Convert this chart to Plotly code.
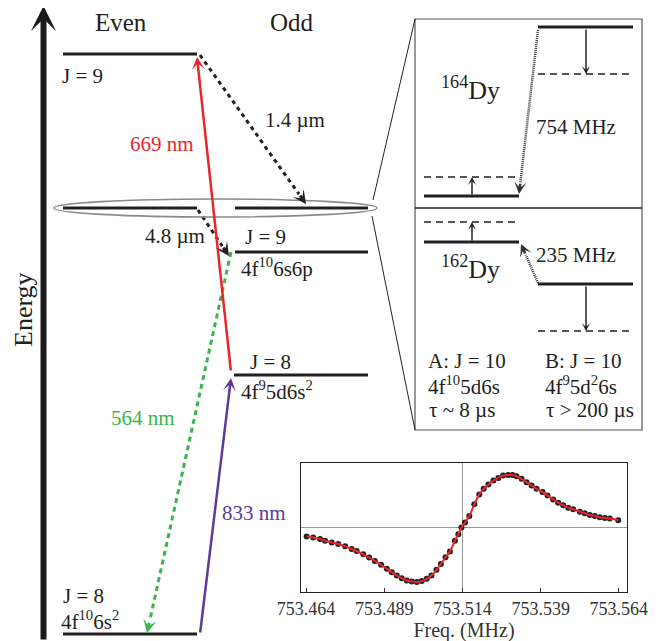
import plotly.graph_objects as go

# ---------------- inset: resonance signal ----------------
freq_mhz = [753.4642, 753.4663, 753.4685, 753.4701, 753.4722, 753.4743, 753.4765, 753.4786,
            753.4802, 753.4823, 753.4842, 753.4860, 753.4880, 753.4898, 753.4914, 753.4930,
            753.4946, 753.4962, 753.4978, 753.4994, 753.5010, 753.5026, 753.5041, 753.5057,
            753.5071, 753.5086, 753.5100, 753.5116, 753.5127, 753.5137, 753.5148, 753.5162,
            753.5178, 753.5194, 753.5208, 753.5223, 753.5239, 753.5255, 753.5270, 753.5286,
            753.5300, 753.5313, 753.5329, 753.5345, 753.5361, 753.5377, 753.5396, 753.5412,
            753.5430, 753.5446, 753.5462, 753.5478, 753.5494, 753.5515, 753.5531, 753.5547,
            753.5563, 753.5579, 753.5595, 753.5611, 753.5638]
signal = [-0.138, -0.154, -0.179, -0.205, -0.231, -0.256, -0.292, -0.333,
          -0.364, -0.415, -0.467, -0.518, -0.579, -0.641, -0.692, -0.744,
          -0.785, -0.821, -0.836, -0.846, -0.831, -0.795, -0.744, -0.656,
          -0.564, -0.462, -0.374, -0.205, -0.103, 0.0, 0.077, 0.179,
          0.359, 0.513, 0.600, 0.667, 0.728, 0.769, 0.805, 0.815,
          0.815, 0.795, 0.754, 0.703, 0.651, 0.600, 0.549, 0.497,
          0.436, 0.385, 0.344, 0.308, 0.282, 0.246, 0.221, 0.195,
          0.179, 0.159, 0.149, 0.138, 0.113]
freq_ticks = [753.464, 753.489, 753.514, 753.539, 753.564]
freq_center = 753.514

# ---------------- level scheme (schematic canvas units) ----------------
main_level_x0 = [63, 63, 235, 235, 234, 63]
main_level_x1 = [197, 197, 368, 368, 368, 197]
main_level_y = [54, 208, 208, 252, 375, 634]

box_solid_x0 = [538, 424, 424, 538]
box_solid_x1 = [633, 519, 519, 633]
box_solid_y = [27, 196, 242, 284]
box_dash_x0 = [538, 424, 424, 538]
box_dash_x1 = [633, 519, 519, 633]
box_dash_y = [74, 177, 222, 331]

FONT = "Liberation Serif"
INK = "#231f20"
RED = "#e8262c"
GREEN = "#39b54a"
PURPLE = "#5b3c9a"

# the page body adds an 8 px offset; compensate in the canvas frame
OFF = 8
W, H = 669, 641

fig = go.Figure()


def seg_trace(x0s, x1s, ys, width, dash="solid", color=INK):
    xs, yy = [], []
    for a, b, y in zip(x0s, x1s, ys):
        xs += [a, b, None]
        yy += [y, y, None]
    fig.add_trace(go.Scatter(x=xs, y=yy, mode="lines", xaxis="x", yaxis="y",
                             line=dict(color=color, width=width, dash=dash),
                             hoverinfo="skip", showlegend=False))


seg_trace(main_level_x0, main_level_x1, main_level_y, 3)
seg_trace(box_solid_x0, box_solid_x1, box_solid_y, 3.2)
seg_trace(box_dash_x0, box_dash_x1, box_dash_y, 1.5, dash="7px,5px")

annotations = []


def arrow(xt, yt, xh, yh, color, width, size, dash=None, style=3):
    if dash is None:
        annotations.append(dict(x=xh, y=yh, ax=xt, ay=yt, xref="x", yref="y",
                                axref="x", ayref="y", showarrow=True, text="",
                                arrowhead=style, arrowsize=size, arrowwidth=width,
                                arrowcolor=color))
    else:
        dx, dy = xh - xt, yh - yt
        L = (dx * dx + dy * dy) ** 0.5
        ux, uy = dx / L, dy / L
        back = 12
        fig.add_trace(go.Scatter(x=[xt, xh - ux * back], y=[yt, yh - uy * back],
                                 mode="lines", xaxis="x", yaxis="y",
                                 line=dict(color=color, width=width, dash=dash),
                                 hoverinfo="skip", showlegend=False))
        annotations.append(dict(x=xh, y=yh, ax=xh - ux * back, ay=yh - uy * back,
                                xref="x", yref="y", axref="x", ayref="y",
                                showarrow=True, text="", arrowhead=style,
                                arrowsize=size, arrowwidth=width, arrowcolor=color))


# energy axis
arrow(43.5, 641, 43.5, 6, "#1a1a1a", 6, 0.7)
# transitions
arrow(231, 372, 197, 57, RED, 2.5, 0.85)
arrow(200, 634, 231, 378, PURPLE, 2.5, 0.85)
arrow(231, 252, 147, 633, GREEN, 3, 0.75, dash="5px,4px")
arrow(200, 55, 306, 204, INK, 3, 0.75, dash="4px,4px")
arrow(198, 210, 229, 256, INK, 3, 0.75, dash="4px,4px")
arrow(538, 30, 519, 194, "#333", 2.5, 0.8, dash="1px,1px")
arrow(538, 283, 521, 244, "#333", 2.5, 0.8, dash="1px,1px")
# small shifts in box
arrow(472, 196, 472, 177, INK, 1.5, 0.9)
arrow(472, 242, 472, 222, INK, 1.5, 0.9)
arrow(586, 28, 586, 74, INK, 1.5, 0.9)
arrow(586, 285, 586, 331, INK, 1.5, 0.9)


def text(x, y, s, size=21, color=INK, anchor="center", angle=0):
    annotations.append(dict(x=x, y=y, xref="x", yref="y", text=s, showarrow=False,
                            xanchor=anchor, yanchor="middle", textangle=angle,
                            borderpad=0,
                            font=dict(family=FONT, size=size, color=color)))


text(121, 22, "Even", 25)
text(292, 22, "Odd", 25)
text(23, 310, "Energy", 26, angle=-90)
text(61, 76, "J = 9", anchor="left")
text(244, 237, "J = 9", anchor="left")
text(240, 267, "4f<sup>10</sup>6s6p", anchor="left")
text(249, 362, "J = 8", anchor="left")
text(240, 390, "4f<sup>9</sup>5d6s<sup>2</sup>", anchor="left")
text(62, 596, "J = 8", anchor="left")
text(60, 620, "4f<sup>10</sup>6s<sup>2</sup>", anchor="left")
text(162, 144, "669 nm", color=RED)
text(295, 120, "1.4 µm")
text(175, 236, "4.8 µm")
text(143, 418, "564 nm", color=GREEN)
text(254, 513, "833 nm", color=PURPLE)
text(470, 88, "<sup>164</sup>Dy", 26)
text(470, 267, "<sup>162</sup>Dy", 26)
text(535, 127, "754 MHz", anchor="left")
text(535, 255, "235 MHz", anchor="left")
text(427, 361, "A: J = 10", anchor="left")
text(427, 385, "4f<sup>10</sup>5d6s", anchor="left")
text(428, 410, "τ ~ 8 µs", anchor="left")
text(544, 361, "B: J = 10", anchor="left")
text(544, 385, "4f<sup>9</sup>5d<sup>2</sup>6s", anchor="left")
text(545, 410, "τ > 200 µs", anchor="left")

shapes = [
    # ellipse around near-degenerate pair
    dict(type="circle", xref="x", yref="y", x0=54, x1=377, y0=199, y1=217,
         line=dict(color="#8a8a8a", width=1.6)),
    # zoom box
    dict(type="rect", xref="x", yref="y", x0=415, x1=642, y0=19, y1=430,
         line=dict(color="#555", width=1.2)),
    dict(type="line", xref="x", yref="y", x0=415, x1=642, y0=208, y1=208,
         line=dict(color=INK, width=1.6)),
    dict(type="line", xref="x", yref="y", x0=373, x1=415, y0=200, y1=19,
         line=dict(color="#222", width=1)),
    dict(type="line", xref="x", yref="y", x0=372, x1=415, y0=216, y1=430,
         line=dict(color="#222", width=1)),
    # inset guide lines
    dict(type="line", xref="x2", yref="y2 domain", x0=freq_center, x1=freq_center,
         y0=0, y1=1, line=dict(color="#999", width=1), layer="below"),
    dict(type="line", xref="x2 domain", yref="y2", x0=0, x1=1, y0=0, y1=0,
         line=dict(color="#999", width=1), layer="below"),
]

# inset data
fig.add_trace(go.Scatter(x=freq_mhz, y=signal, mode="markers", xaxis="x2", yaxis="y2",
                         marker=dict(color="#222", size=6), showlegend=False,
                         hoverinfo="skip"))
fig.add_trace(go.Scatter(x=freq_mhz, y=signal, mode="lines", xaxis="x2", yaxis="y2",
                         line=dict(color="#e8262c", width=2, shape="spline"),
                         showlegend=False, hoverinfo="skip"))

fig.update_layout(
    template="none",
    width=W, height=H,
    margin=dict(l=0, r=0, t=0, b=0, pad=0, autoexpand=False),
    paper_bgcolor="white", plot_bgcolor="rgba(0,0,0,0)",
    showlegend=False,
    xaxis=dict(domain=[0, 1], range=[OFF, W + OFF], visible=False, fixedrange=True,
               automargin=False),
    yaxis=dict(domain=[0, 1], range=[H + OFF, OFF], visible=False, fixedrange=True,
               automargin=False),
    xaxis2=dict(domain=[(301 - OFF) / W, (627 - OFF) / W], range=[753.4624, 753.5666],
                anchor="y2", tickvals=freq_ticks, tickformat=".3f",
                ticks="inside", ticklen=4, tickcolor="#333", automargin=False,
                showline=True, mirror=True, linecolor="#222", linewidth=1,
                showgrid=False, zeroline=False,
                tickfont=dict(family=FONT, size=18, color="#333"),
                title=dict(text="Freq. (MHz)", font=dict(family=FONT, size=20, color="#333"),
                           standoff=0)),
    yaxis2=dict(domain=[1 - (592 - OFF) / H, 1 - (463 - OFF) / H], range=[-1, 1],
                anchor="x2", showticklabels=False, ticks="", showline=True, mirror=True,
                automargin=False,
                linecolor="#222", linewidth=1, showgrid=False, zeroline=False),
    shapes=shapes,
    annotations=annotations,
)

fig.write_html("out.html")
